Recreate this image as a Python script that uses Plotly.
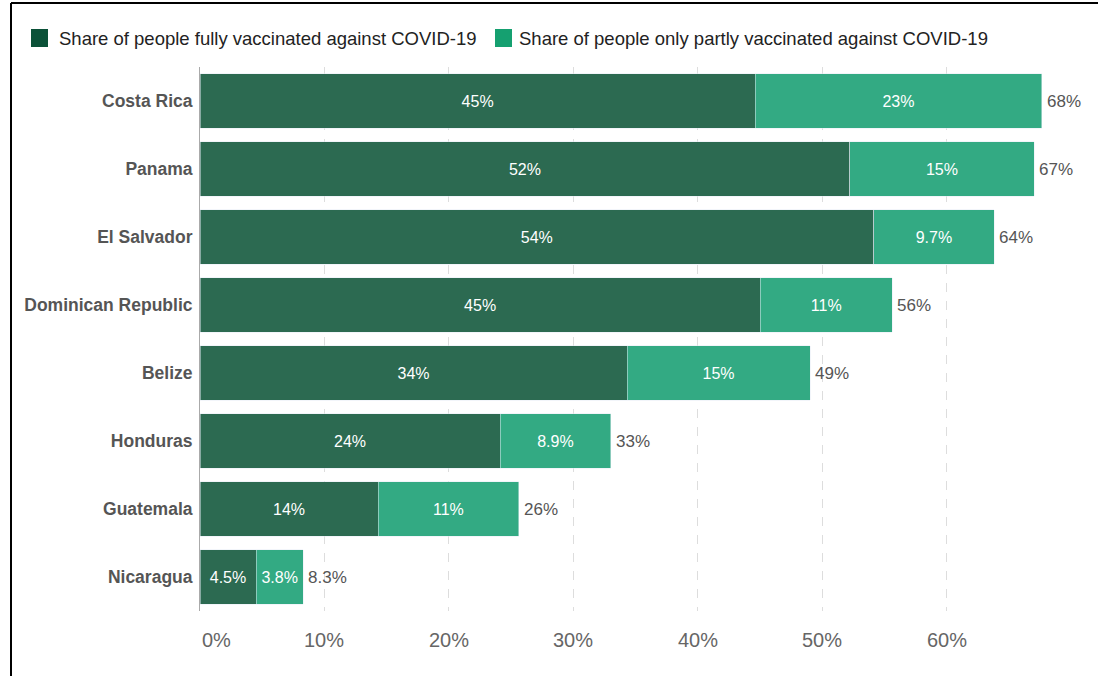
import plotly.graph_objects as go

# Central American countries, COVID-19 vaccination shares (% of population)
countries = ["Costa Rica", "Panama", "El Salvador", "Dominican Republic",
             "Belize", "Honduras", "Guatemala", "Nicaragua"]
fully_vaccinated = [44.6, 52.2, 54.1, 45.0, 34.3, 24.1, 14.3, 4.5]
partly_vaccinated = [23.0, 14.8, 9.7, 10.6, 14.7, 8.9, 11.3, 3.8]
tick_values = [0, 10, 20, 30, 40, 50, 60]

series_names = ["Share of people fully vaccinated against COVID-19",
                "Share of people only partly vaccinated against COVID-19"]

FONT = "Liberation Sans, Arial, sans-serif"
DARK_BAR, LIGHT_BAR = "#2c6a51", "#33aa83"
DARK_KEY, LIGHT_KEY = "#0b5138", "#15a070"

# plot area geometry in pixels
W, H = 1098, 676
ML, MR, MT, MB = 200, 39, 67, 65
PW, PH = W - ML - MR, H - MT - MB


def px_x(x):
    return (x - ML) / PW


def px_y(y):
    return (H - MB - y) / PH


def fmt(v):
    """Two significant figures, like 45%, 9.7%, 8.3%."""
    return f"{v:.1f}%" if v < 9.95 else f"{v:.0f}%"


totals = [f + p for f, p in zip(fully_vaccinated, partly_vaccinated)]

fig = go.Figure()
for values, name, color in [(fully_vaccinated, series_names[0], DARK_BAR),
                            (partly_vaccinated, series_names[1], LIGHT_BAR)]:
    fig.add_trace(go.Bar(
        y=countries, x=values, orientation="h",
        name=name, marker_color=color,
        text=[fmt(v) for v in values], textposition="inside",
        insidetextanchor="middle", constraintext="none",
        textfont=dict(color="white", size=16, family=FONT),
        showlegend=False, hoverinfo="skip",
    ))

annotations = []
# totals at the end of each stacked bar
for c, t in zip(countries, totals):
    annotations.append(dict(
        x=t, y=c, xref="x", yref="y", text=fmt(t), showarrow=False,
        xanchor="left", xshift=3, font=dict(size=17, color="#555", family=FONT),
    ))
# x tick labels (first one sits to the right of its tick)
for v in tick_values:
    annotations.append(dict(
        x=v, y=px_y(640), xref="x", yref="paper", text=f"{v}%", showarrow=False,
        xanchor="left" if v == 0 else "center", yanchor="middle",
        font=dict(size=20, color="#666", family=FONT),
    ))

# legend keys drawn as squares with labels
shapes = []
legend_items = [(31, 57, DARK_KEY, series_names[0]), (495, 517, LIGHT_KEY, series_names[1])]
for sq_x, tx, col, label in legend_items:
    shapes.append(dict(type="rect", xref="paper", yref="paper",
                       x0=px_x(sq_x), x1=px_x(sq_x + 17),
                       y0=px_y(47), y1=px_y(29),
                       fillcolor=col, line_width=0))
    annotations.append(dict(x=px_x(tx), y=px_y(38), xref="paper", yref="paper",
                            text=label, showarrow=False, xanchor="left", yanchor="middle",
                            font=dict(size=18.5, color="#222", family=FONT)))

# outer frame lines (top and left)
shapes.append(dict(type="line", xref="paper", yref="paper",
                   x0=px_x(11), x1=px_x(W), y0=px_y(3), y1=px_y(3),
                   line=dict(color="black", width=2)))
shapes.append(dict(type="line", xref="paper", yref="paper",
                   x0=px_x(11), x1=px_x(11), y0=px_y(3), y1=px_y(H + 4),
                   line=dict(color="black", width=2)))

fig.update_layout(
    width=W, height=H,
    margin=dict(l=ML, r=MR, t=MT, b=MB),
    barmode="stack", bargap=0.2,
    plot_bgcolor="white", paper_bgcolor="white",
    font=dict(family=FONT),
    shapes=shapes, annotations=annotations,
    xaxis=dict(range=[0, 69], tickvals=tick_values, showticklabels=False,
               showgrid=True, gridcolor="#dddddd", griddash="dash", gridwidth=1,
               zeroline=False, showline=False),
    yaxis=dict(autorange="reversed", showgrid=False, zeroline=False,
               showline=True, linecolor="#aaaaaa", linewidth=1,
               ticks="", ticklabelstandoff=3,
               tickfont=dict(size=17.5, color="#555", family=FONT, weight="bold")),
)

fig.write_html("out.html")
